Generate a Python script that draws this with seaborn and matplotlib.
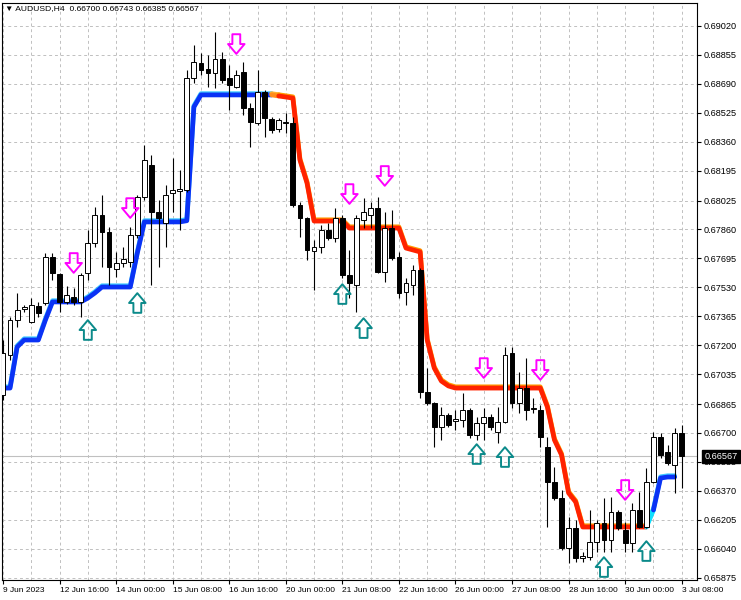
import numpy as np
import pandas as pd
import seaborn as sns
import matplotlib.pyplot as plt
import matplotlib.patheffects as pe
from matplotlib.path import Path
from matplotlib.transforms import blended_transform_factory

# AUDUSD H4 candles
opens = [0.66917, 0.67145, 0.67344, 0.67407, 0.67333, 0.67424, 0.67441, 0.67703, 0.67606, 0.67447,
         0.67475, 0.67447, 0.67612, 0.67783, 0.67943, 0.67846, 0.67635, 0.67669, 0.67675, 0.67828,
         0.68045, 0.68227, 0.67960, 0.67897, 0.68068, 0.68079, 0.68085, 0.68723, 0.68809, 0.68775,
         0.68752, 0.68832, 0.68723, 0.68672, 0.68758, 0.68552, 0.68467, 0.68644, 0.68490, 0.68433,
         0.68467, 0.68467, 0.68000, 0.67925, 0.67737, 0.67760, 0.67857, 0.67811, 0.67925, 0.67601,
         0.67544, 0.67914, 0.67943, 0.67982, 0.67618, 0.67868, 0.67703, 0.67504, 0.67544, 0.67629,
         0.66934, 0.66871, 0.66734, 0.66803, 0.66771, 0.66774, 0.66831, 0.66689, 0.66757, 0.66791,
         0.66706, 0.66763, 0.67156, 0.66871, 0.66956, 0.66834, 0.66831, 0.66620, 0.66421, 0.66329,
         0.66044, 0.66158, 0.65990, 0.65993, 0.66079, 0.66187, 0.66090, 0.66250, 0.66147, 0.66073,
         0.66261, 0.66164, 0.66421, 0.66677, 0.66592, 0.66518, 0.66700]
highs = [0.67230, 0.67361, 0.67498, 0.67430, 0.67469, 0.67447, 0.67726, 0.67726, 0.67612, 0.67538,
         0.67526, 0.67612, 0.67857, 0.67988, 0.68057, 0.67874, 0.67732, 0.67760, 0.67874, 0.68057,
         0.68341, 0.68284, 0.68028, 0.68113, 0.68267, 0.68199, 0.68769, 0.68912, 0.68866, 0.68855,
         0.68986, 0.68872, 0.68798, 0.68769, 0.68815, 0.68581, 0.68769, 0.68655, 0.68501, 0.68495,
         0.68524, 0.68501, 0.68017, 0.67931, 0.67800, 0.67886, 0.67897, 0.67982, 0.67943, 0.67743,
         0.67943, 0.68039, 0.68017, 0.68045, 0.67960, 0.67971, 0.67732, 0.67583, 0.67658, 0.67640,
         0.67070, 0.66877, 0.66848, 0.66814, 0.66831, 0.66928, 0.66842, 0.66791, 0.66842, 0.66808,
         0.66848, 0.67190, 0.67190, 0.67048, 0.67127, 0.66899, 0.66860, 0.66677, 0.66506, 0.66375,
         0.66221, 0.66204, 0.66022, 0.66261, 0.66204, 0.66329, 0.66335, 0.66261, 0.66193, 0.66301,
         0.66364, 0.66500, 0.66706, 0.66700, 0.66632, 0.66728, 0.66743]
lows = [0.66888, 0.67116, 0.67304, 0.67390, 0.67327, 0.67361, 0.67430, 0.67572, 0.67390, 0.67435,
        0.67430, 0.67361, 0.67572, 0.67760, 0.67646, 0.67544, 0.67589, 0.67646, 0.67646, 0.67811,
        0.68028, 0.67544, 0.67646, 0.67760, 0.67960, 0.67857, 0.68074, 0.68695, 0.68741, 0.68672,
        0.68666, 0.68695, 0.68541, 0.68666, 0.68513, 0.68330, 0.68456, 0.68387, 0.68410, 0.68416,
        0.68410, 0.67988, 0.67817, 0.67686, 0.67515, 0.67726, 0.67800, 0.67789, 0.67583, 0.67469,
        0.67390, 0.67868, 0.67868, 0.67612, 0.67561, 0.67686, 0.67469, 0.67430, 0.67487, 0.66899,
        0.66860, 0.66620, 0.66660, 0.66734, 0.66717, 0.66734, 0.66671, 0.66660, 0.66660, 0.66717,
        0.66643, 0.66757, 0.66842, 0.66814, 0.66774, 0.66814, 0.66620, 0.66164, 0.66318, 0.66033,
        0.65959, 0.65965, 0.65965, 0.65976, 0.66022, 0.66022, 0.66022, 0.66147, 0.66022, 0.66022,
        0.66158, 0.66158, 0.66415, 0.66557, 0.66518, 0.66358, 0.66385]
closes = [0.67156, 0.67344, 0.67401, 0.67418, 0.67430, 0.67384, 0.67703, 0.67612, 0.67447, 0.67487,
          0.67447, 0.67601, 0.67783, 0.67943, 0.67846, 0.67646, 0.67669, 0.67692, 0.67828, 0.68045,
          0.68256, 0.67960, 0.67925, 0.68057, 0.68085, 0.68091, 0.68723, 0.68815, 0.68769, 0.68752,
          0.68832, 0.68712, 0.68684, 0.68741, 0.68552, 0.68473, 0.68644, 0.68495, 0.68427, 0.68484,
          0.68473, 0.68000, 0.67925, 0.67743, 0.67760, 0.67857, 0.67811, 0.67925, 0.67601, 0.67555,
          0.67925, 0.67960, 0.67982, 0.67618, 0.67868, 0.67697, 0.67498, 0.67555, 0.67629, 0.66934,
          0.66871, 0.66734, 0.66803, 0.66746, 0.66777, 0.66831, 0.66689, 0.66757, 0.66791, 0.66734,
          0.66763, 0.67145, 0.66871, 0.66956, 0.66831, 0.66840, 0.66677, 0.66421, 0.66329, 0.66044,
          0.66158, 0.65987, 0.65996, 0.66079, 0.66187, 0.66090, 0.66250, 0.66158, 0.66073, 0.66261,
          0.66164, 0.66421, 0.66677, 0.66575, 0.66529, 0.66700, 0.66567]

# trailing stop line of the indicator
trend = [0.66956, 0.66956, 0.67190, 0.67230, 0.67230, 0.67230, 0.67344, 0.67447, 0.67447, 0.67447,
         0.67447, 0.67447, 0.67469, 0.67498, 0.67532, 0.67532, 0.67532, 0.67532, 0.67532, 0.67726,
         0.67903, 0.67903, 0.67903, 0.67903, 0.67903, 0.67903, 0.67910, 0.68558, 0.68627, 0.68627,
         0.68627, 0.68627, 0.68627, 0.68627, 0.68627, 0.68627, 0.68627, 0.68627, 0.68627, 0.68621,
         0.68615, 0.68609, 0.68256, 0.68125, 0.67908, 0.67908, 0.67908, 0.67908, 0.67908, 0.67868,
         0.67868, 0.67868, 0.67868, 0.67868, 0.67868, 0.67868, 0.67868, 0.67754, 0.67743, 0.67732,
         0.67230, 0.67070, 0.66996, 0.66968, 0.66956, 0.66956, 0.66956, 0.66956, 0.66956, 0.66956,
         0.66956, 0.66956, 0.66956, 0.66956, 0.66956, 0.66956, 0.66956, 0.66848, 0.66660, 0.66575,
         0.66358, 0.66307, 0.66164, 0.66164, 0.66164, 0.66164, 0.66164, 0.66164, 0.66164, 0.66164,
         0.66164, 0.66164, 0.66261, 0.66443, 0.66449, 0.66449, np.nan]

# signal arrows (bar index, price)
down_idx = [10, 18, 33, 49, 54, 68, 76, 88]
down_price = [0.67669, 0.67982, 0.68917, 0.68062, 0.68165, 0.67070, 0.67059, 0.66375]
up_idx = [12, 19, 48, 51, 67, 71, 85, 91]
up_price = [0.67287, 0.67441, 0.67492, 0.67298, 0.66580, 0.66563, 0.65936, 0.66027]

ytick_vals = [0.69020, 0.68855, 0.68690, 0.68525, 0.68360, 0.68195, 0.68025, 0.67860, 0.67695, 0.67530,
              0.67365, 0.67200, 0.67035, 0.66865, 0.66700, 0.66535, 0.66370, 0.66205, 0.66040, 0.65875]
xtick_pos = [0, 8, 16, 24, 32, 40, 48, 56, 64, 72, 80, 88, 96]
xtick_labels = ["9 Jun 2023", "12 Jun 16:00", "14 Jun 00:00", "15 Jun 08:00", "16 Jun 16:00",
                "20 Jun 00:00", "21 Jun 08:00", "22 Jun 16:00", "26 Jun 00:00", "27 Jun 08:00",
                "28 Jun 16:00", "30 Jun 00:00", "3 Jul 08:00"]
last_price = 0.66567
title = "\u25bc AUDUSD,H4  0.66700 0.66743 0.66385 0.66567"

sns.set_theme(style="white")
plt.rcParams['font.family'] = ['Liberation Sans', 'DejaVu Sans']

df = pd.DataFrame({'o': opens, 'h': highs, 'l': lows, 'c': closes, 'trend': trend})
df['i'] = np.arange(len(df))
bull = df['c'] >= df['o']

fig = plt.figure(figsize=(7.41, 6.0), dpi=100)
ax = fig.add_axes([2 / 741, 20 / 600, 695 / 741, 577 / 600])
ax.set_facecolor('white')

# grid
ax.set_xticks(xtick_pos)
ax.set_xticks([p + 4 for p in xtick_pos[:-1]], minor=True)
ax.set_yticks(ytick_vals)
ax.grid(True, which='both', axis='x', color='#c0c0c0', linestyle=(0, (3, 3)), lw=0.7)
ax.grid(True, which='major', axis='y', color='#c0c0c0', linestyle=(0, (3, 3)), lw=0.7)
ax.set_axisbelow(True)
ax.axhline(last_price, color='#c0c0c0', lw=0.8, zorder=1)

# indicator line, coloured by trend state
segments = [(0, 38, '#0a32f5', '#3cc8ff'), (38, 39, '#ff8c1a', '#ffb030'),
            (39, 91, '#ff2200', '#ff9a00'), (91, 92, '#10e0ff', '#10e0ff'),
            (92, 95, '#0a32f5', '#3cc8ff')]
for a, b, col, edge in segments:
    seg = df.iloc[a:b + 1]
    sns.lineplot(x=seg['i'], y=seg['trend'], ax=ax, color=col, lw=3.4, sort=False,
                 estimator=None, zorder=2,
                 path_effects=[pe.Stroke(linewidth=3.4, foreground=edge, offset=(0, 0.9)),
                               pe.Normal()])

# candles
ax.vlines(df['i'], df['l'], df['h'], color='black', lw=0.8, zorder=3)
body_lo = np.minimum(df['o'], df['c'])
body_h = np.maximum((df['c'] - df['o']).abs(), 0.00003)
ax.bar(df['i'], body_h, bottom=body_lo, width=0.68,
       color=np.where(bull, 'white', 'black'), edgecolor='black', lw=0.7, zorder=4)

# arrows
dv = [(-0.2, 0.5), (0.2, 0.5), (0.2, 0.0), (0.42, 0.0), (0.0, -0.5), (-0.42, 0.0), (-0.2, 0.0), (-0.2, 0.5)]
codes = [Path.MOVETO] + [Path.LINETO] * 6 + [Path.CLOSEPOLY]
down_arrow = Path(dv, codes)
up_arrow = Path([(x, -y) for x, y in dv], codes)
ax.scatter(down_idx, down_price, marker=down_arrow, s=200, facecolors='none',
           edgecolors='#ff00ff', linewidths=1.4, zorder=6)
ax.scatter(up_idx, up_price, marker=up_arrow, s=200, facecolors='none',
           edgecolors='#0b8a8a', linewidths=1.4, zorder=6)

ax.set_xlim(-0.14, 98.16)
ax.set_ylim(0.65862, 0.69151)
ax.set_xlabel('')
ax.set_ylabel('')

ax.yaxis.tick_right()
ax.set_yticklabels([f"{v:.5f}" for v in ytick_vals])
ax.set_xticklabels(xtick_labels, ha='left')
ax.tick_params(axis='y', which='major', direction='out', length=3, width=0.8, color='black',
               labelsize=6.6, pad=2, labelcolor='black', right=True, left=False)
ax.tick_params(axis='x', which='major', direction='out', length=3, width=0.8, color='black',
               labelsize=6.0, pad=2, labelcolor='black', bottom=True)
ax.tick_params(axis='x', which='minor', length=0)
for s in ax.spines.values():
    s.set_color('black')
    s.set_linewidth(0.8)

# last price tag and header
trans = blended_transform_factory(ax.transAxes, ax.transData)
ax.text(1.0105, last_price, f"{last_price:.5f}", transform=trans, va='center', ha='left',
        fontsize=6.6, color='white', zorder=10, clip_on=False,
        bbox=dict(boxstyle='square,pad=0.25', fc='black', ec='black'))
ax.text(0.004, 0.996, title, transform=ax.transAxes, va='top', ha='left', fontsize=6.1,
        color='black', zorder=10)

fig.savefig('out.png', dpi=100)
